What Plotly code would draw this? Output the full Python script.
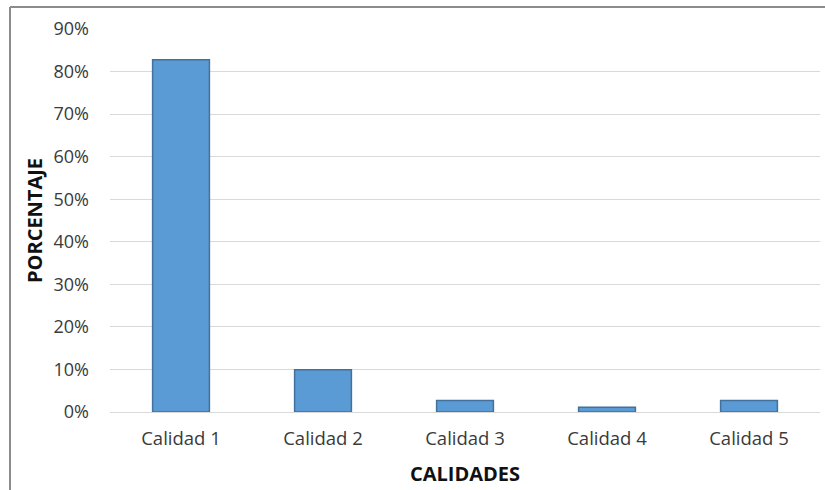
import plotly.graph_objects as go

# Share of each quality grade
categorias = ["Calidad 1", "Calidad 2", "Calidad 3", "Calidad 4", "Calidad 5"]
porcentajes = [0.828, 0.099, 0.027, 0.011, 0.027]
y_ticks = [0, 0.1, 0.2, 0.3, 0.4, 0.5, 0.6, 0.7, 0.8, 0.9]

W, H = 825, 490
L, R, T, B = 110, 5, 29, 78
pw, ph = W - L - R, H - T - B

fig = go.Figure(
    go.Bar(
        x=categorias,
        y=porcentajes,
        marker=dict(color="#5B9BD5", line=dict(color="#41719C", width=1.5)),
        width=0.4,
    )
)

font_fam = "'Open Sans', sans-serif"

fig.update_layout(
    width=W,
    height=H,
    margin=dict(l=L, r=R, t=T, b=B),
    paper_bgcolor="white",
    plot_bgcolor="white",
    showlegend=False,
    font=dict(family=font_fam, size=18, color="#404040"),
    xaxis=dict(
        showgrid=False,
        showline=True,
        linecolor="#D9D9D9",
        linewidth=1,
        ticks="",
        ticklabelstandoff=10,
        tickfont=dict(size=18.5, color="#3A3A3A"),
        title=dict(text="<b>CALIDADES</b>", font=dict(size=20, color="#111111"), standoff=17),
    ),
    yaxis=dict(
        range=[0, 0.9],
        tickvals=y_ticks,
        tickformat=".0%",
        showgrid=True,
        gridcolor="#D9D9D9",
        gridwidth=1,
        zeroline=False,
        showline=False,
        ticks="",
        ticklabelstandoff=20,
        tickfont=dict(size=18, color="#3A3A3A"),
        title=dict(text="<b>PORCENTAJE</b>", font=dict(size=20, color="#111111"), standoff=5),
    ),
)

# Chart frame (left and top edges)
x_left = (10 - L) / pw
y_top = (H - B - 7) / ph
fig.add_shape(type="line", xref="paper", yref="paper",
              x0=x_left, x1=x_left, y0=-0.3, y1=y_top,
              line=dict(color="#8C8C8C", width=2))
fig.add_shape(type="line", xref="paper", yref="paper",
              x0=x_left, x1=1.2, y0=y_top, y1=y_top,
              line=dict(color="#8C8C8C", width=2))

fig.write_html("out.html")
